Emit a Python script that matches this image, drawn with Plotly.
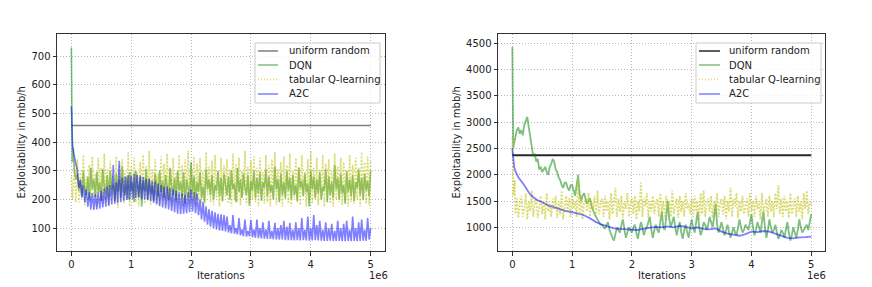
import plotly.graph_objects as go

W, H = 872, 287

SERIES_NAMES = ["uniform random", "DQN", "tabular Q-learning", "A2C"]

# ---------------- Left panel data ----------------
L_uniform_x = [0, 5000000]
L_uniform_y = [458, 458]

L_dqn_early_x = [0, 5000, 15000, 30000, 50000, 75000]
L_dqn_early_y = [730, 420, 330, 380, 300, 270]
L_dqn_body = [290,230,265,205,300,240,215,280,200,310,235,270,210,295,225,260,195,305,245,220,
              285,210,300,235,250,195,290,225,270,205,315,240,215,280,200,295,230,260,190,300,
              245,210,285,175,265,230,305,200,275,220,250,195,290,240,210,300,225,265,205,285,
              235,200,310,245,215,275,195,300,230,260,210,295,185,270,240,205,330,220,280,200,
              260,225,295,205,245,190,305,235,270,215,285,200,250,230,300,210,275,195,290,240,
              215,280,200,300,235,255,190,310,225,270,205,290,240,215,285,180,265,230,300,205,
              275,220,295,195,260,240,305,210,280,225,250,200,315,235,270,190,290,215,260,205,
              300,230,275,200,285,215,250,195,310,240,265,210,290,225,255,175,300,235,280,205,
              270,220,295,200,245,230,305,190,280,215,260,205,320,235,275,200,290,220,250,185,
              300,225,270,210,285,195,260,240,305,215,275,200,290,230,265,210,300]

L_tab_early_x = [0, 20000, 50000, 75000]
L_tab_early_y = [280, 200, 330, 190]
L_tab_body = [340,190,300,215,355,180,280,235,320,195,350,205,290,175,345,225,310,185,360,200,
              305,180,335,215,285,190,350,170,320,230,340,185,300,205,365,175,315,220,345,190,
              295,175,330,210,355,185,315,195,370,180,305,220,340,185,290,175,350,205,325,180,
              360,195,310,175,345,215,295,185,355,190,320,175,340,210,370,185,305,195,350,175,
              325,200,345,185,300,175,365,215,315,190,335,180,355,205,295,175,345,190,320,210,
              340,185,305,175,360,200,325,190,345,180,300,215,370,185,315,175,335,200,350,190,
              310,175,345,205,295,185,355,190,320,175,340,210,365,180,305,195,330,175,350,200,
              320,185,360,175,300,205,345,190,315,180,355,215,295,175,340,195,370,185,310,200,
              345,180,305,195,355,175,325,210,340,185,300,175,360,200,315,190,345,180,330,205,
              300,175,355,190,320,185,345,200,310,175,365,195,330,185,350,180,335]

L_a2c_early_x = [0, 5000, 10000, 20000, 40000, 60000, 80000]
L_a2c_early_y = [525, 450, 420, 390, 360, 340, 320]
L_a2c_body = [300,240,270,210,250,190,235,175,225,165,222,163,218,165,225,168,230,172,238,175,
              245,178,250,182,320,185,260,188,335,190,275,195,280,198,285,200,282,202,290,205,
              285,205,280,202,278,200,272,198,270,195,265,188,262,182,255,178,250,172,245,168,
              245,165,240,160,235,155,230,150,225,148,220,150,215,152,225,155,235,158,225,152,
              220,145,200,130,190,122,175,112,165,105,160,100,155,95,150,92,148,90,145,88,
              140,85,110,82,145,80,100,78,135,75,95,72,130,70,90,72,128,68,95,66,
              130,65,100,64,120,63,95,62,125,62,90,61,118,60,100,60,110,60,125,58,
              105,58,118,58,95,57,120,58,100,57,135,58,95,57,140,56,100,57,145,58,
              110,57,125,56,95,55,120,55,100,56,115,55,90,55,125,55,100,54,115,54,
              125,55,95,54,140,55,100,54,120,55,130,56,95,55,135,60,100]

# ---------------- Right panel data ----------------
R_uniform_x = [0, 5000000]
R_uniform_y = [2370, 2370]

R_dqn_early_x = [0, 5000, 15000, 30000]
R_dqn_early_y = [4430, 3000, 2500, 2600]
R_dqn_body = [2750,2850,2900,2780,2850,2750,2950,3050,3100,2900,2700,2500,2350,2400,2250,2300,2100,2150,2050,2100,
              2150,2050,2000,2150,2200,2300,2250,2100,2050,1950,1900,1800,1750,1850,1850,1750,1700,1800,1800,1700,
              1600,1800,2000,1650,1500,1600,1650,1550,1450,1500,1550,1400,1300,1250,1200,1150,1100,1050,1050,1000,
              980,1050,1100,950,850,800,750,900,1000,950,900,1050,1150,950,800,900,1000,950,900,1000,
              1050,900,780,950,1100,1000,850,950,1000,1100,1200,950,800,950,1050,950,900,1100,1300,1000,
              950,1200,1500,1150,1000,1100,1200,1000,850,1000,1100,900,780,950,1050,900,800,1000,1150,1000,
              900,1100,1300,1000,850,950,1100,1050,950,1050,1200,1100,1000,1200,1450,1050,900,1000,1100,950,
              850,950,1050,900,800,900,1000,900,850,1000,1150,1000,900,950,1050,1000,950,1100,1250,1000,
              850,950,1100,1000,900,1100,1300,1000,800,950,1150,1000,900,950,1050,900,780,850,950,900,
              800,950,1100,900,750,850,1000,900,800,950,1150,1000,900,950,1000,1050,950,1100,1250]

R_tab_early_x = [0, 10000, 20000, 40000]
R_tab_early_y = [2700, 2100, 1600, 1900]
R_tab_body = [1250,1550,1180,1450,1600,1200,1350,1650,1150,1500,1300,1700,1200,1450,1550,1180,1400,1600,1250,1500,
              1150,1650,1300,1450,1200,1550,1350,1600,1180,1500,1250,1700,1150,1450,1600,1300,1550,1200,1650,1350,
              1500,1200,1900,1250,1600,1150,1450,1550,1300,1650,1200,1500,1350,1600,1180,1700,1250,1450,1550,1200,
              1600,1300,1500,1150,1650,1250,1450,1750,1200,1550,1300,1600,1180,1500,1350,1650,1200,1450,1550,1250,
              1600,1150,1500,1300,1850,1200,1550,1400,1650,1180,1500,1300,1600,1250,1450,1550,1200,1650,1300,1500,
              1150,1600,1350,1500,1200,1700,1250,1450,1550,1180,1600,1300,1500,1200,1650,1350,1450,1250,1550,1200,
              1600,1300,1500,1150,1650,1250,1700,1200,1450,1550,1300,1600,1180,1500,1350,1650,1200,1450,1550,1250,
              1600,1150,1500,1300,1750,1200,1550,1400,1650,1180,1500,1300,1600,1250,1450,1550,1200,1650,1300,1500,
              1200,1600,1350,1500,1150,1650,1250,1450,1550,1200,1600,1300,1500,1200,1650,1350,1800,1250,1550,1200,
              1600,1300,1500,1180,1650,1250,1450,1550,1200,1600,1300,1500,1150,1650,1350,1700,1250,1500,1400]

R_a2c_early_x = [0, 10000, 30000, 50000]
R_a2c_early_y = [2500, 2300, 2150, 2070]
R_a2c_body = [1950,1800,1620,1530,1470,1420,1380,1340,1310,1290,
              1265,1230,1170,1100,1050,1010,980,970,960,955,
              950,975,990,1010,1000,1020,1000,1030,1010,980,
              1000,970,960,980,920,880,860,840,870,920,
              910,930,920,880,850,800,790,810,815,825]

x_ticks = [0, 1000000, 2000000, 3000000, 4000000, 5000000]
x_tick_labels = ["0", "1", "2", "3", "4", "5"]
L_y_ticks = [100, 200, 300, 400, 500, 600, 700]
R_y_ticks = [1000, 1500, 2000, 2500, 3000, 3500, 4000, 4500]


def grid(start, n, step):
    return [start + i * step for i in range(n)]


def series(early_x, early_y, body, start, step):
    return early_x + grid(start, len(body), step), early_y + body


C_DQN = "rgba(0,128,0,0.5)"
C_TAB = "rgba(191,191,0,0.55)"
C_A2C = "rgba(0,0,255,0.5)"
C_UNI_L = "rgba(0,0,0,0.5)"
C_UNI_R = "rgba(0,0,0,0.85)"
TAB_DASH = "2px,1.5px"

fig = go.Figure()

# Left panel
lx, ly = series(L_dqn_early_x, L_dqn_early_y, L_dqn_body, 100000, 25000)
tx, ty = series(L_tab_early_x, L_tab_early_y, L_tab_body, 100000, 25000)
ax_, ay_ = series(L_a2c_early_x, L_a2c_early_y, L_a2c_body, 100000, 25000)
fig.add_trace(go.Scatter(x=L_uniform_x, y=L_uniform_y, mode="lines", name=SERIES_NAMES[0],
                         line=dict(color=C_UNI_L, width=1.5), xaxis="x", yaxis="y"))
fig.add_trace(go.Scatter(x=lx, y=ly, mode="lines", name=SERIES_NAMES[1],
                         line=dict(color=C_DQN, width=1.6), xaxis="x", yaxis="y"))
fig.add_trace(go.Scatter(x=tx, y=ty, mode="lines", name=SERIES_NAMES[2],
                         line=dict(color=C_TAB, width=1.6, dash=TAB_DASH), xaxis="x", yaxis="y"))
fig.add_trace(go.Scatter(x=ax_, y=ay_, mode="lines", name=SERIES_NAMES[3],
                         line=dict(color=C_A2C, width=1.6), xaxis="x", yaxis="y"))

# Right panel
rx, ry = series(R_dqn_early_x, R_dqn_early_y, R_dqn_body, 50000, 25000)
rtx, rty = series(R_tab_early_x, R_tab_early_y, R_tab_body, 50000, 25000)
rax, ray = series(R_a2c_early_x, R_a2c_early_y, R_a2c_body, 100000, 100000)
fig.add_trace(go.Scatter(x=R_uniform_x, y=R_uniform_y, mode="lines", name=SERIES_NAMES[0],
                         line=dict(color=C_UNI_R, width=2), xaxis="x2", yaxis="y2"))
fig.add_trace(go.Scatter(x=rx, y=ry, mode="lines", name=SERIES_NAMES[1],
                         line=dict(color=C_DQN, width=1.8), xaxis="x2", yaxis="y2"))
fig.add_trace(go.Scatter(x=rtx, y=rty, mode="lines", name=SERIES_NAMES[2],
                         line=dict(color=C_TAB, width=1.8, dash=TAB_DASH), xaxis="x2", yaxis="y2"))
fig.add_trace(go.Scatter(x=rax, y=ray, mode="lines", name=SERIES_NAMES[3],
                         line=dict(color=C_A2C, width=1.8), xaxis="x2", yaxis="y2"))

FONT = "DejaVu Sans"
axis_common = dict(showline=True, mirror=True, linecolor="#333333", linewidth=1,
                   ticks="outside", ticklen=3.5, tickcolor="#333333", tickwidth=1,
                   showgrid=True, gridcolor="#b8b8b8", griddash="1px,2px", gridwidth=1,
                   zeroline=False, tickfont=dict(family=FONT, size=10, color="#222222"),
                   automargin=False)

px = lambda v: v / W
py = lambda v: 1 - v / H

fig.update_layout(
    width=W, height=H, margin=dict(l=0, r=0, t=0, b=0),
    paper_bgcolor="white", plot_bgcolor="white",
    font=dict(family=FONT, size=10, color="#222222"),
    showlegend=False,
    xaxis=dict(domain=[px(57), px(385)], range=[-240000, 5240000], tickvals=x_ticks,
               ticktext=x_tick_labels, anchor="y", **axis_common),
    yaxis=dict(domain=[py(251), py(34)], range=[20, 777], tickvals=L_y_ticks, anchor="x", **axis_common),
    xaxis2=dict(domain=[px(498), px(825)], range=[-240000, 5230000], tickvals=x_ticks,
                ticktext=x_tick_labels, anchor="y2", **axis_common),
    yaxis2=dict(domain=[py(251), py(34)], range=[550, 4677], tickvals=R_y_ticks, anchor="x2", **axis_common),
)

ann = []
shapes = []
for cx, ycx, sx in [((57 + 385) / 2, 21, 378), ((498 + 825) / 2, 456, 816)]:
    ann.append(dict(text="Iterations", x=px(cx), y=py(275), xref="paper", yref="paper",
                    showarrow=False, xanchor="center", yanchor="middle", font=dict(size=10)))
    ann.append(dict(text="Exploitability in mbb/h", x=px(ycx), y=py(142.5), xref="paper", yref="paper",
                    showarrow=False, xanchor="center", yanchor="middle", textangle=-90, font=dict(size=10)))
    ann.append(dict(text="1e6", x=px(sx), y=py(275), xref="paper", yref="paper",
                    showarrow=False, xanchor="center", yanchor="middle", font=dict(size=10)))

# Compact matplotlib-style legends
legend_specs = [
    dict(box=(255, 380), line=(258, 278), text=287, colors=[C_UNI_L, C_DQN, C_TAB, C_A2C]),
    dict(box=(696, 821), line=(699, 720), text=727, colors=[C_UNI_R, C_DQN, C_TAB, C_A2C]),
]
rows_y = [51, 65, 79.5, 94]
for spec in legend_specs:
    bx0, bx1 = spec["box"]
    shapes.append(dict(type="rect", xref="paper", yref="paper",
                       x0=px(bx0), x1=px(bx1), y0=py(103), y1=py(43),
                       line=dict(color="#cccccc", width=1), fillcolor="rgba(255,255,255,0.8)", layer="above"))
    for i, name in enumerate(SERIES_NAMES):
        col = spec["colors"][i]
        dash = "1px,2px" if i == 2 else "solid"
        shapes.append(dict(type="line", xref="paper", yref="paper",
                           x0=px(spec["line"][0]), x1=px(spec["line"][1]), y0=py(rows_y[i]), y1=py(rows_y[i]),
                           line=dict(color=col, width=1.5, dash=dash), layer="above"))
        ann.append(dict(text=name, x=px(spec["text"]), y=py(rows_y[i]), xref="paper", yref="paper",
                        showarrow=False, xanchor="left", yanchor="middle", font=dict(size=10)))

fig.update_layout(annotations=ann, shapes=shapes)

fig.write_html("out.html", config={"displayModeBar": False},
               post_script="document.body.style.margin='0';")
